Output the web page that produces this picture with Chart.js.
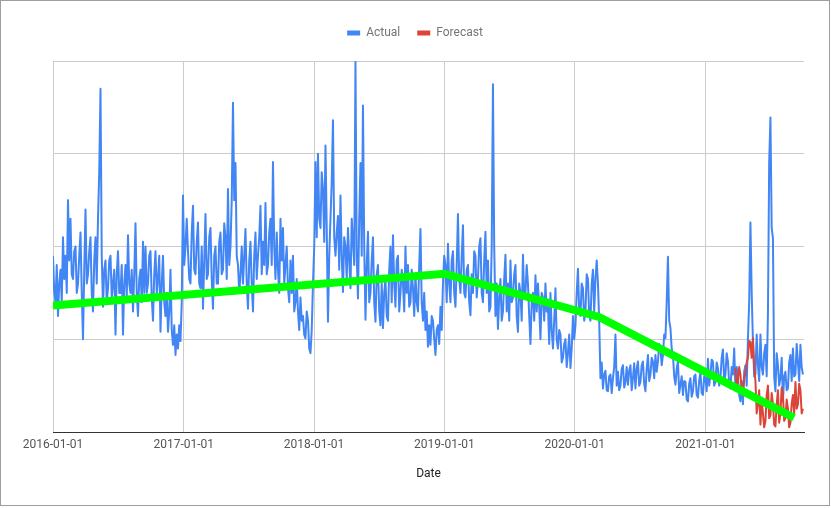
<!DOCTYPE html>
<html>
<head>
<meta charset="utf-8">
<script src="https://cdn.jsdelivr.net/npm/chart.js@4.4.1/dist/chart.umd.min.js"></script>
<style>
  body { margin: 0; background: #fff; }
  #frame { position: relative; width: 828px; height: 504px; border: 1px solid #9e9e9e; }
</style>
</head>
<body>
<div id="frame"><canvas id="chart"></canvas></div>
<script>
// Readings every half week, starting 2016-01-01
const actualStart = '2016-01-01';
const forecastStart = '2021-03-26';
const stepDays = 3.5;

const actual = [
  190, 150, 140, 180, 125, 160, 175, 140, 210, 165, 190, 150, 250, 185, 230, 170, 165, 195, 200, 150,
  160, 190, 215, 150, 100, 175, 240, 160, 170, 195, 210, 150, 130, 185, 210, 160, 230, 280, 370, 190,
  135, 175, 185, 140, 155, 185, 190, 145, 160, 175, 105, 170, 195, 150, 150, 180, 105, 160, 180, 145,
  212, 160, 150, 175, 130, 170, 225, 150, 125, 165, 175, 140, 205, 150,
  200, 150, 160, 190, 195, 145, 120, 170, 195, 150, 165, 190, 108, 160, 190, 140, 125, 150, 108, 130,
  175, 110, 94, 115, 83, 105, 90, 115, 98, 140, 255, 180, 200, 230, 195, 165, 160, 215, 244, 175,
  170, 205, 226, 160, 155, 200, 133, 185, 235, 165, 170, 210, 220, 165, 133, 190, 200, 160, 160, 205,
  215, 170, 175, 225, 210, 165, 262, 180, 200, 250, 355, 250, 290, 190, 180, 150,
  170, 200, 160, 190, 219, 160, 133, 185, 205, 160, 130, 190, 215, 165, 190, 210, 244, 170, 205, 180,
  247, 170, 180, 215, 230, 180, 291, 200, 165, 215, 175, 150, 230, 185, 220, 160, 180, 200, 155, 140,
  185, 150, 190, 130, 140, 165, 130, 110, 145, 120, 125, 105, 101, 130, 120, 90, 85, 110, 160, 200,
  291, 210, 300, 230, 220, 280, 262, 205, 309, 220, 119, 190, 230, 270, 336, 210,
  190, 215, 233, 175, 255, 190, 151, 210, 200, 165, 220, 185, 155, 230, 205, 180, 399, 190, 144, 230,
  290, 190, 352, 200, 121, 180, 216, 140, 150, 185, 210, 140, 119, 170, 180, 130, 115, 160, 112, 150,
  165, 125, 120, 175, 200, 140, 212, 160, 135, 185, 190, 130, 150, 175, 160, 130, 200, 150, 180, 135,
  140, 175, 155, 125, 170, 140, 130, 180, 219, 140, 120, 150, 110, 130, 92, 115,
  94, 125, 120, 100, 83, 110, 115, 95, 135, 110, 160, 190, 180, 140, 203, 160, 140, 185, 195, 150,
  135, 180, 235, 165, 150, 190, 223, 150, 145, 175, 180, 140, 126, 170, 150, 195, 190, 145, 165, 200,
  209, 150, 140, 185, 216, 150, 185, 130, 135, 200, 375, 200, 125, 160, 111, 145, 165, 120, 130, 165,
  191, 130, 160, 120, 185, 140, 145, 170, 180, 125, 108, 160, 150, 120, 191, 145,
  150, 180, 160, 125, 95, 140, 150, 120, 169, 130, 160, 135, 100, 150, 145, 120, 160, 130, 135, 95,
  150, 110, 90, 120, 155, 100, 90, 110, 105, 75, 80, 95, 100, 70, 85, 105, 69, 90, 125, 100,
  115, 150, 176, 130, 125, 160, 155, 120, 130, 170, 165, 125, 120, 160, 175, 130, 165, 185, 160, 120,
  58, 75, 47, 62, 66, 45, 44, 60, 62, 42, 58, 70, 105, 50, 65, 45,
  50, 68, 72, 48, 54, 70, 51, 66, 72, 45, 58, 74, 47, 68, 76, 50, 54, 72, 76, 52,
  44, 68, 83, 55, 62, 80, 76, 58, 83, 65, 76, 95, 90, 72, 83, 105, 101, 140, 189, 120,
  112, 90, 83, 60, 51, 68, 76, 42, 51, 60, 40, 55, 54, 35, 33, 52, 58, 38, 44, 60,
  62, 40, 37, 55, 65, 42, 40, 60, 58, 44, 79, 50, 62, 78, 76, 50,
  54, 75, 69, 50, 58, 80, 89, 55, 62, 85, 76, 52, 47, 70, 62, 90, 47, 70, 60, 40,
  33, 55, 30, 65, 72, 50, 100, 140, 226, 150, 97, 60, 62, 105, 72, 55, 105, 70, 62, 85,
  94, 60, 126, 290, 339, 220, 209, 60, 44, 85, 72, 50, 58, 80, 33, 60, 65, 45, 47, 75,
  83, 55, 90, 60, 62, 95, 75, 55, 94, 70, 62
];

const forecast = [
  69, 50, 55, 70, 62, 45, 40, 60, 62, 75, 80, 98, 97, 80, 101, 70, 55, 20, 30, 45,
  8, 35, 20, 5, 12, 40, 50, 15, 18, 42, 30, 8, 6, 30, 45, 10, 20, 48, 40, 12,
  15, 35, 25, 5, 10, 30, 40, 20, 54, 25, 30, 52, 45, 20, 25
];

const trendDates = ['2016-01-01', '2019-01-01', '2020-03-09', '2021-09-06'];
const trendValues = [136.5, 170.6, 124, 15.4];

const yearTicks = ['2016-01-01', '2017-01-01', '2018-01-01', '2019-01-01', '2020-01-01', '2021-01-01'];
const axisEnd = '2021-10-04';

function dayOf(str) {
  const [y, m, d] = str.split('-').map(Number);
  return (Date.UTC(y, m - 1, d) - Date.UTC(2016, 0, 1)) / 86400000;
}

const actualPts = actual.map((v, i) => ({ x: dayOf(actualStart) + i * stepDays, y: v }));
const forecastPts = forecast.map((v, i) => ({ x: dayOf(forecastStart) + i * stepDays, y: v }));
const trendPts = trendValues.map((v, i) => ({ x: dayOf(trendDates[i]), y: v }));

// legend gets a fixed height and spans the full width
const layoutFix = {
  id: 'layoutFix',
  beforeInit(chart) {
    const legend = chart.legend;
    const fit = legend.fit;
    legend.fit = function () {
      fit.call(this);
      this.height = 51;
    };
  },
  afterLayout(chart) {
    chart.legend.left = 0;
    chart.legend.right = chart.width;
    chart.legend.width = chart.width;
  }
};

Chart.defaults.font.family = 'Roboto';
Chart.defaults.font.size = 12;

new Chart(document.getElementById('chart'), {
  type: 'line',
  data: {
    datasets: [
      {
        label: 'Actual',
        data: actualPts,
        borderColor: '#4285F4',
        backgroundColor: '#4285F4',
        borderWidth: 2,
        borderJoinStyle: 'round',
        pointRadius: 0,
        tension: 0,
        order: 2
      },
      {
        label: 'Forecast',
        data: forecastPts,
        borderColor: '#DB4437',
        backgroundColor: '#DB4437',
        borderWidth: 2,
        borderJoinStyle: 'round',
        pointRadius: 0,
        tension: 0,
        order: 1
      },
      {
        label: 'Trend',
        data: trendPts,
        borderColor: '#00FF00',
        backgroundColor: '#00FF00',
        borderWidth: 8,
        pointRadius: 0,
        tension: 0,
        order: 0
      }
    ]
  },
  options: {
    responsive: true,
    maintainAspectRatio: false,
    animation: false,
    events: [],
    layout: { padding: { top: 9, right: 25, bottom: 0, left: 0 } },
    plugins: {
      tooltip: { enabled: false },
      legend: {
        position: 'top',
        labels: {
          color: '#757575',
          boxWidth: 13,
          boxHeight: 5,
          padding: 17,
          generateLabels(chart) {
            return Chart.defaults.plugins.legend.labels.generateLabels(chart)
              .filter(l => l.datasetIndex < 2)
              .sort((a, b) => a.datasetIndex - b.datasetIndex)
              .map(l => Object.assign(l, { lineWidth: 0, fillStyle: l.strokeStyle }));
          }
        }
      }
    },
    scales: {
      x: {
        type: 'linear',
        min: 0,
        max: dayOf(axisEnd),
        afterBuildTicks(scale) {
          scale.ticks = yearTicks.map(t => ({ value: dayOf(t) }));
        },
        afterFit(scale) { scale.height = 73; },
        ticks: {
          autoSkip: false,
          maxRotation: 0,
          padding: 6,
          color: '#555',
          callback: (value, index) => yearTicks[index]
        },
        grid: { color: '#cccccc', drawTicks: false },
        border: { display: true, color: '#333', width: 1 },
        title: {
          display: true,
          text: 'Date',
          color: '#222',
          padding: { top: 0, bottom: 23.5 }
        }
      },
      y: {
        min: 0,
        max: 400,
        afterFit(scale) { scale.width = 52; },
        ticks: { display: false, stepSize: 100 },
        grid: {
          drawTicks: false,
          color: ctx => (ctx.tick.value === 0 ? 'rgba(0,0,0,0)' : '#cccccc')
        },
        border: { display: false }
      }
    }
  },
  plugins: [layoutFix]
});
</script>
</body>
</html>
